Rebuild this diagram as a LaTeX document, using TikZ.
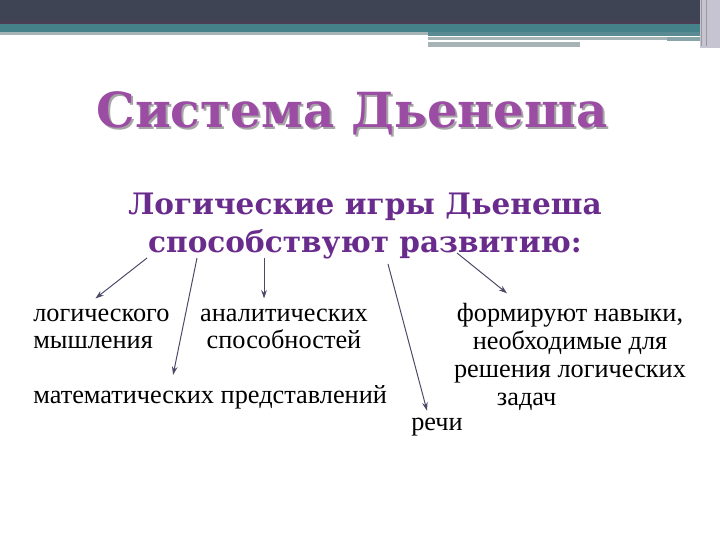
\documentclass[tikz,border=0pt]{standalone}
\usepackage{fontspec}
\setmainfont{Liberation Serif}
\newfontfamily\headfont{DejaVu Serif}
\usetikzlibrary{arrows.meta,calc}

\definecolor{barslate}{HTML}{3F4455}
\definecolor{barplum}{HTML}{4B3F55}
\definecolor{barteal}{HTML}{458189}
\definecolor{barline}{HTML}{A6B4B6}
\definecolor{bardark}{HTML}{5A8A92}
\definecolor{barside}{HTML}{C6C4D0}
\definecolor{titlepurple}{HTML}{9B4DA4}
\definecolor{subpurple}{HTML}{6A2C8C}
\definecolor{arrowgrey}{HTML}{4A4A68}

\tikzset{
  titletext/.style={font=\headfont\bfseries\fontsize{34.4}{40}\selectfont, text=titlepurple, inner sep=0pt},
  titleshade/.style={font=\headfont\bfseries\fontsize{34.4}{40}\selectfont, text=black!35, inner sep=0pt},
  subtitle/.style={font=\headfont\bfseries\fontsize{21}{27.6}\selectfont, text=subpurple, inner sep=0pt},
  body/.style={font=\fontsize{18.7}{19.8}\selectfont, inner sep=0pt},
  arr/.style={draw=arrowgrey, line width=0.7pt, -{Stealth[length=6pt,width=4pt]}},
}

\begin{document}
\begin{tikzpicture}[x=0.025cm,y=-0.025cm]
    \useasboundingbox (0,0) rectangle (720,540);

    % Top band
    \fill[barslate] (0,0) rectangle (708,21);
    \fill[barplum] (0,21) rectangle (708,24);
    \fill[barteal] (0,24) rectangle (708,32);
    \fill[barline] (0,32) rectangle (430,35);
    \fill[bardark] (428,32) rectangle (700,36);
    \fill[barline] (428,37) rectangle (667,40);
    \fill[barline!70!barteal] (667,37) rectangle (700,41);
    \fill[barline] (428,42) rectangle (580,47);
    \fill[barside] (700,0) rectangle (720,48);
    \draw[black!40, line width=0.5pt] (701,0) -- (701,46) (706,0) -- (706,46);

    % Heading
    \node[titleshade, anchor=base] (titleshadow) at (354,129) {Система Дьенеша};
    \node[titletext, anchor=base] (title) at (352,127) {Система Дьенеша};
    \node[subtitle, align=center] (sub) at (365,226) {Логические игры Дьенеша\\способствуют развитию:};

    % Items
    \node[body, align=left, anchor=west] (logic) at (33,329) {логического\\мышления};
    \node[body, align=center] (analyt) at (284,329) {аналитических\\способностей};
    \node[body, anchor=west] (math) at (33,397) {математических представлений};
    \node[body] (speech) at (437,427) {речи};
    \node[body, align=center] (skills) at (570,357) {формируют навыки,\\необходимые для\\решения логических\\задач\hspace*{3.3em}};

    % Arrow starts
    \coordinate (s1) at (147,258);
    \coordinate (s2) at (197,258);
    \coordinate (s3) at (264,258);
    \coordinate (s4) at (388,264);
    \coordinate (s5) at (457,253);

    % Arrows
    \draw[arr] (s1) -- ($(logic.north)+(-6,-10)$);
    \draw[arr] (s2) -- ($(math.north)+(-37,-10)$);
    \draw[arr] (s3) -- ($(analyt.north)+(-20,-10)$);
    \draw[arr] (s4) -- ($(speech.north)+(-10,-7)$);
    \draw[arr] (s5) -- ($(skills.north)+(-63,-10)$);
\end{tikzpicture}
\end{document}
